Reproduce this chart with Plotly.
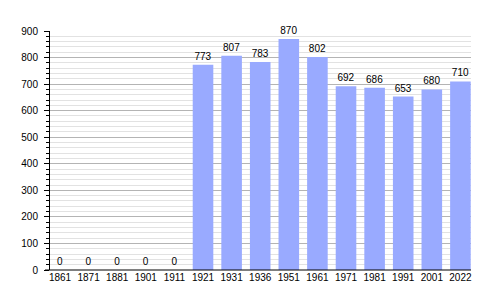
import plotly.graph_objects as go

years = ["1861", "1871", "1881", "1901", "1911", "1921", "1931", "1936",
         "1951", "1961", "1971", "1981", "1991", "2001", "2022"]
population = [0, 0, 0, 0, 0, 773, 807, 783, 870, 802, 692, 686, 653, 680, 710]
y_ticks = [0, 100, 200, 300, 400, 500, 600, 700, 800, 900]

fig = go.Figure()
fig.add_trace(go.Bar(
    x=years,
    y=population,
    marker=dict(color="#99aaff", line=dict(width=0)),
    text=[str(v) for v in population],
    textposition="outside",
    textfont=dict(family="Liberation Sans, Arial, sans-serif", size=10, color="black"),
    constraintext="none",
    cliponaxis=False,
    hoverinfo="skip",
))

fig.update_layout(
    width=500, height=300,
    margin=dict(l=50, r=29, t=31, b=30),
    paper_bgcolor="white",
    plot_bgcolor="white",
    bargap=0.28,
    showlegend=False,
    font=dict(family="Liberation Sans, Arial, sans-serif", size=10, color="black"),
    xaxis=dict(
        type="category",
        range=[-0.35, 14.37],
        showline=False,
        showgrid=False,
        ticks="",
        tickfont=dict(size=10, color="black"),
        fixedrange=True,
    ),
    yaxis=dict(
        range=[0, 900],
        tickvals=y_ticks,
        showline=True,
        linecolor="black",
        linewidth=1,
        ticks="outside",
        ticklen=5,
        tickcolor="black",
        showgrid=True,
        gridcolor="#b4b4b4",
        gridwidth=1,
        zeroline=False,
        tickfont=dict(size=10, color="black"),
        ticklabelstandoff=4,
        minor=dict(dtick=20, tick0=0, ticks="outside", ticklen=3, tickcolor="black",
                   showgrid=True, gridcolor="#e2e2e2", gridwidth=1),
        fixedrange=True,
    ),
)

# x-axis baseline, extending slightly left of the y-axis as in the reference
fig.add_shape(type="line", xref="paper", yref="paper", x0=-5/421, x1=1, y0=0, y1=0,
              line=dict(color="black", width=1))

fig.write_html("out.html")
